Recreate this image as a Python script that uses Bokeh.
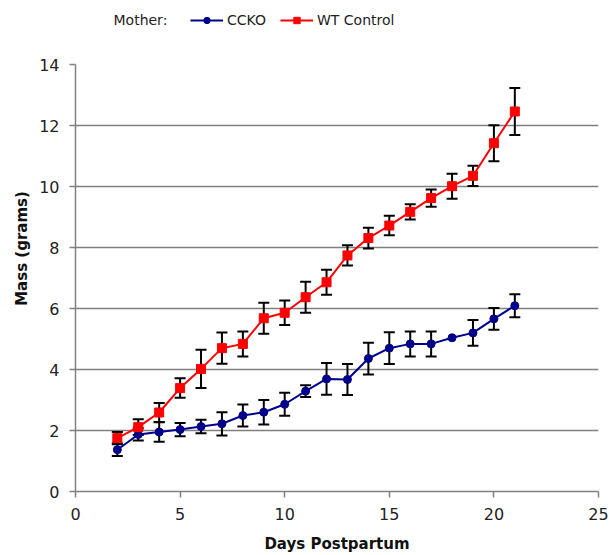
from bokeh.plotting import figure
from bokeh.models import (Whisker, ColumnDataSource, Legend, LegendItem, FixedTicker,
                          TeeHead, Label)
from bokeh.embed import file_html
from bokeh.resources import INLINE

days = list(range(2, 22))
ccko_mass = [1.37, 1.87, 1.95, 2.03, 2.13, 2.22, 2.49, 2.60, 2.86, 3.29,
             3.69, 3.67, 4.36, 4.70, 4.84, 4.84, 5.04, 5.20, 5.66, 6.09]
ccko_err = [0.21, 0.20, 0.32, 0.22, 0.22, 0.38, 0.36, 0.40, 0.38, 0.19,
            0.52, 0.51, 0.52, 0.52, 0.41, 0.41, 0.00, 0.42, 0.36, 0.38]
wt_mass = [1.75, 2.11, 2.59, 3.39, 4.02, 4.70, 4.84, 5.68, 5.86, 6.37,
           6.86, 7.74, 8.31, 8.72, 9.17, 9.62, 10.01, 10.35, 11.42, 12.46]
wt_err = [0.20, 0.26, 0.31, 0.32, 0.63, 0.51, 0.41, 0.51, 0.40, 0.51,
          0.41, 0.33, 0.34, 0.32, 0.25, 0.28, 0.41, 0.33, 0.59, 0.77]
x_ticks = [0, 5, 10, 15, 20, 25]
y_ticks = [0, 2, 4, 6, 8, 10, 12, 14]
grid_ticks = [2, 4, 6, 8, 10, 12]
legend_title = "Mother:"
series_names = ["CCKO", "WT Control"]

FONT = "DejaVu Sans"
BLUE = "#00008B"
RED = "#FF0000"

# The frame reaches up to the legend row so the legend is not clipped;
# the axis itself stops at 14.
Y_TOP = 14 * 486 / 427

p = figure(width=610, height=555, x_range=(0, 25), y_range=(0, Y_TOP),
           output_backend="svg", toolbar_location=None,
           min_border_left=75, min_border_right=12,
           min_border_top=5, min_border_bottom=64)
p.outline_line_color = None
p.xgrid.visible = False
p.ygrid.ticker = FixedTicker(ticks=grid_ticks)
p.ygrid.grid_line_color = "#7f7f7f"
p.ygrid.grid_line_width = 1.5

p.xaxis.ticker = FixedTicker(ticks=x_ticks)
p.yaxis.ticker = FixedTicker(ticks=y_ticks)
p.yaxis.bounds = (0, 14)
for ax in (p.xaxis[0], p.yaxis[0]):
    ax.axis_line_color = "#808080"
    ax.axis_line_width = 1.5
    ax.major_tick_line_color = "#808080"
    ax.major_tick_line_width = 1.5
    ax.major_tick_in = 0
    ax.major_tick_out = 6
    ax.minor_tick_line_color = None
    ax.major_label_text_font = FONT
    ax.major_label_text_font_size = "16px"
    ax.major_label_text_color = "#222222"
    ax.axis_label_text_font = FONT
    ax.axis_label_text_font_size = "15px"
    ax.axis_label_text_font_style = "bold"
    ax.axis_label_text_color = "#111111"

p.xaxis.axis_label = "Days Postpartum"
p.yaxis.axis_label = "Mass (grams)"
p.xaxis.major_label_standoff = 10
p.xaxis.axis_label_standoff = 12
p.yaxis.major_label_standoff = 10
p.yaxis.axis_label_standoff = 5


def err_source(x, y, e):
    xs, up, lo = [], [], []
    for xi, yi, ei in zip(x, y, e):
        if ei > 0:
            xs.append(xi)
            up.append(yi + ei)
            lo.append(yi - ei)
    return ColumnDataSource(dict(x=xs, upper=up, lower=lo))


for m, e in ((ccko_mass, ccko_err), (wt_mass, wt_err)):
    w = Whisker(source=err_source(days, m, e), base="x", upper="upper", lower="lower",
                line_color="black", line_width=2,
                upper_head=TeeHead(size=11, line_color="black", line_width=2),
                lower_head=TeeHead(size=11, line_color="black", line_width=2))
    p.add_layout(w)

src_c = ColumnDataSource(dict(x=days, y=ccko_mass))
src_w = ColumnDataSource(dict(x=days, y=wt_mass))
lc = p.line("x", "y", source=src_c, line_color=BLUE, line_width=2)
sc = p.scatter("x", "y", source=src_c, marker="circle", size=8,
               fill_color=BLUE, line_color=BLUE)
lw = p.line("x", "y", source=src_w, line_color=RED, line_width=2)
sw = p.scatter("x", "y", source=src_w, marker="square", size=9,
               fill_color=RED, line_color=RED)

# frame-relative screen coordinates (origin at the frame's bottom-left)
p.add_layout(Label(x=38, y=472, x_units="screen", y_units="screen",
                   text=legend_title, text_font=FONT, text_font_size="14px",
                   text_color="#222222", text_baseline="middle", text_align="left"))

legend = Legend(items=[LegendItem(label=series_names[0], renderers=[lc, sc]),
                       LegendItem(label=series_names[1], renderers=[lw, sw])],
                orientation="horizontal", location=(115, 463),
                label_text_font=FONT, label_text_font_size="14px",
                label_text_color="#222222", glyph_width=33, glyph_height=16,
                label_standoff=4, spacing=14, padding=0, margin=0,
                border_line_color=None, background_fill_alpha=0)
p.add_layout(legend, "center")

open("out.html", "w").write(file_html(p, INLINE))
